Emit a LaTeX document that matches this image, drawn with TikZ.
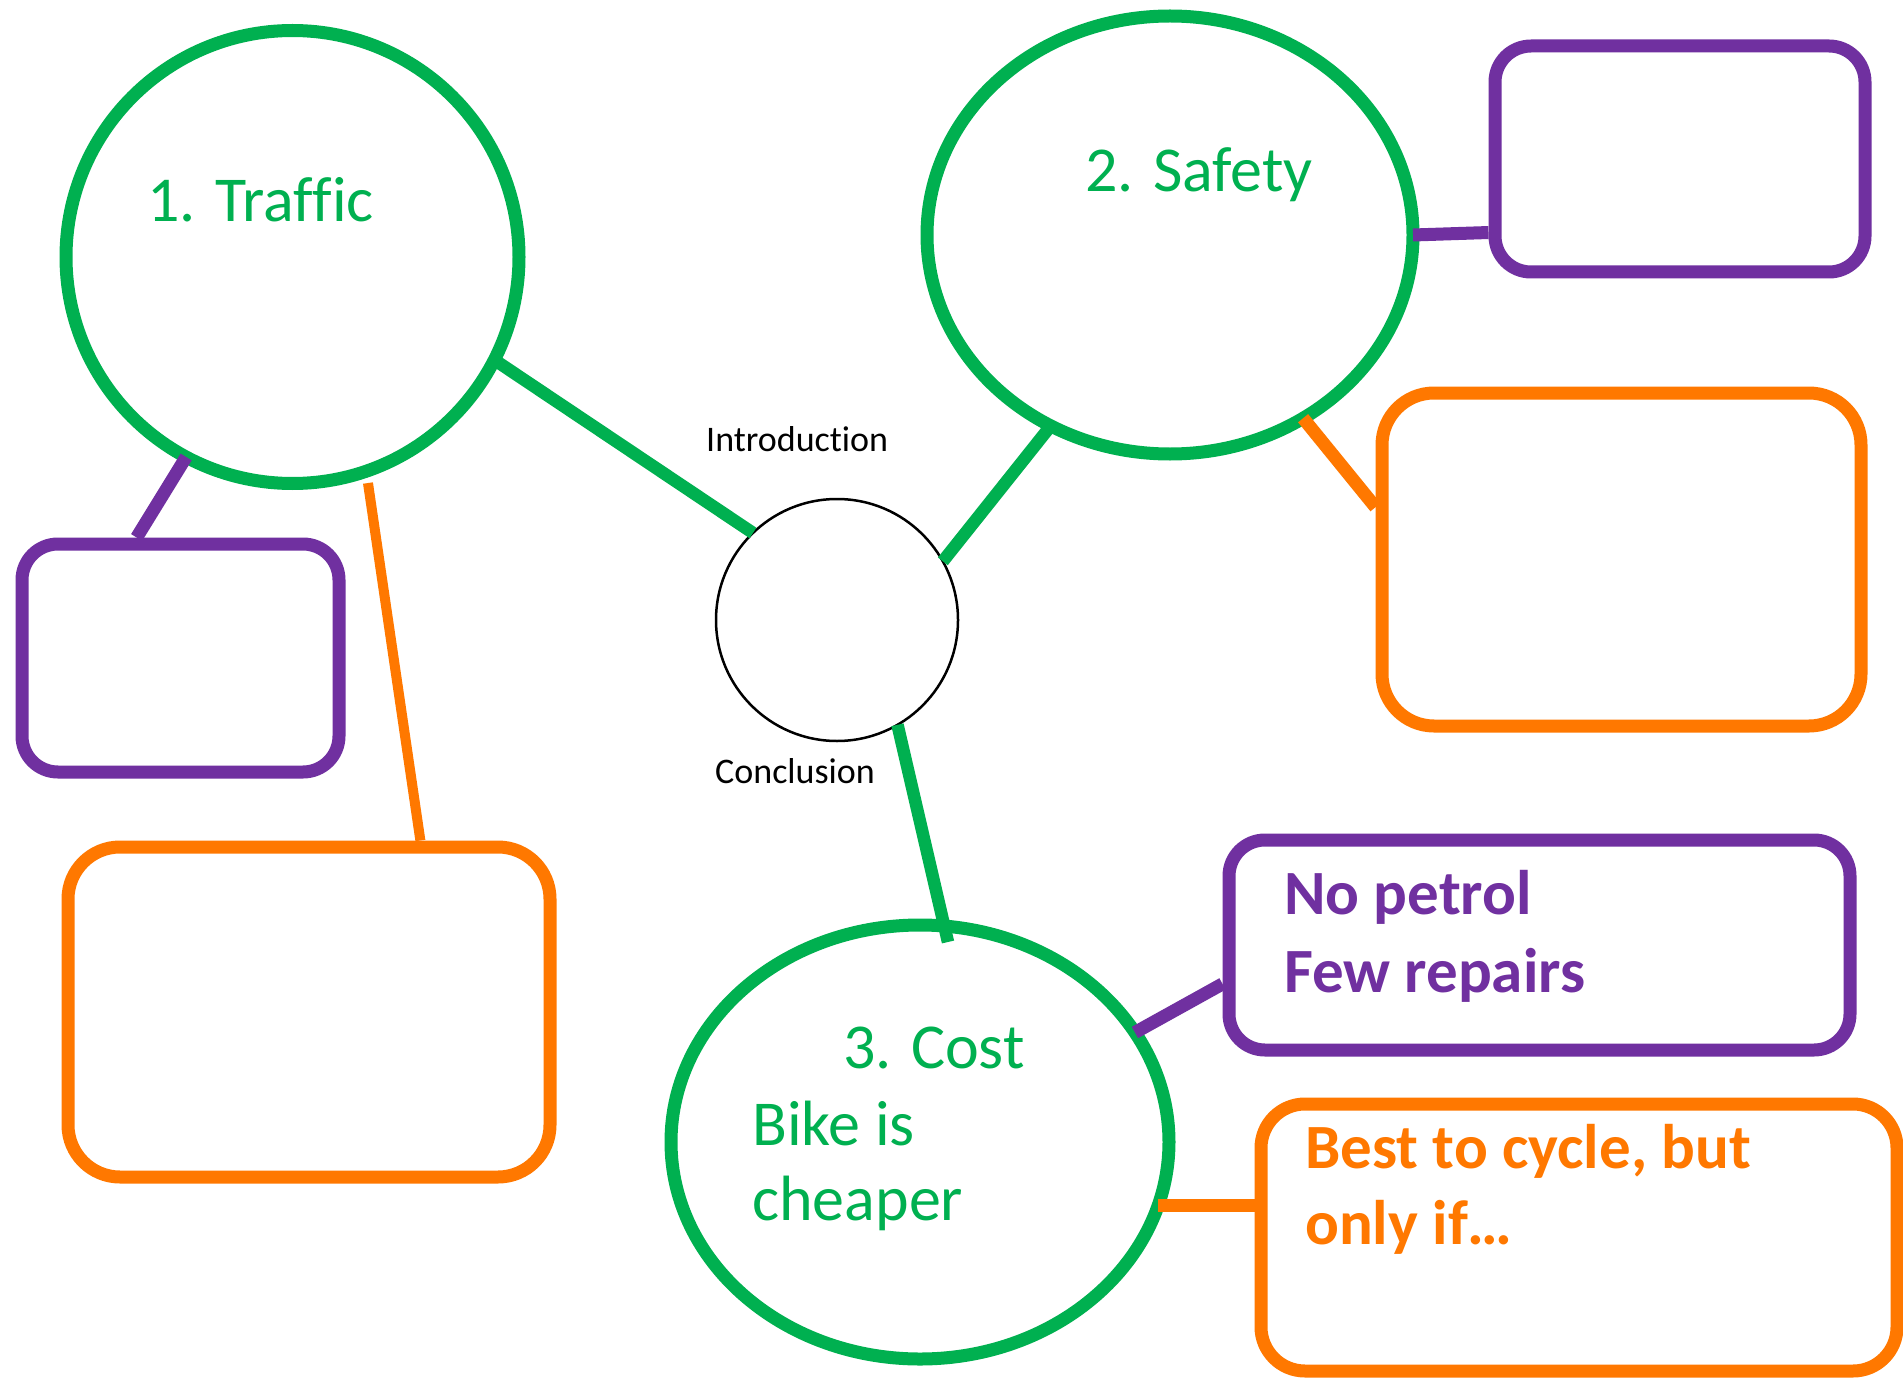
\documentclass[tikz,border=0pt]{standalone}
\usepackage{fontspec}
\setmainfont{Carlito}[Ligatures=CommonOff]
\usetikzlibrary{shapes.geometric}
\definecolor{cgreen}{RGB}{0,176,80}
\definecolor{cpurple}{RGB}{112,48,160}
\definecolor{corange}{RGB}{255,120,0}
\tikzset{
  topic/.style={ellipse, draw=cgreen, line width=13pt, inner sep=0pt, outer sep=0pt},
  hub/.style={circle, draw=black, line width=2.5pt, inner sep=0pt, outer sep=0pt, minimum size=242pt},
  pbox/.style={rectangle, draw=cpurple, line width=13pt, rounded corners=36pt, inner sep=0pt},
  obox/.style={rectangle, draw=corange, line width=13pt, rounded corners=52pt, inner sep=0pt},
  glink/.style={draw=cgreen, line width=12.5pt},
  plink/.style={draw=cpurple, line width=13pt},
  olink/.style={draw=corange, line width=13pt},
  bigtxt/.style={anchor=base west, inner sep=0pt, font=\fontsize{64}{76}\selectfont},
  boldtxt/.style={anchor=base west, inner sep=0pt, font=\bfseries\fontsize{63}{76}\selectfont},
  smalltxt/.style={anchor=base west, inner sep=0pt, font=\fontsize{36}{42}\selectfont},
}
\begin{document}
\begin{tikzpicture}[x=1pt,y=-1pt]
\useasboundingbox (0,0) rectangle (1903,1380);
\fill[white] (0,0) rectangle (1903,1380);

% main nodes
\node[topic, minimum width=453pt, minimum height=453pt] (traffic) at (292.5,257) {};
\node[topic, minimum width=486pt, minimum height=438pt] (safety) at (1170,235) {};
\node[topic, minimum width=498pt, minimum height=434pt] (cost) at (920,1142) {};
\node[hub] (hub) at (837,620) {};

% boxes
\node[pbox, minimum width=370pt, minimum height=226pt] (ptr) at (1680,159) {};
\node[obox, minimum width=479pt, minimum height=333pt] (oright) at (1621.5,559.5) {};
\node[pbox, minimum width=317pt, minimum height=228pt] (pleft) at (180.5,658) {};
\node[obox, minimum width=482pt, minimum height=330pt] (oleft) at (309,1012) {};
\node[pbox, minimum width=621pt, minimum height=210pt] (pbr) at (1539.5,945) {};
\node[obox, rounded corners=44pt, minimum width=636pt, minimum height=267pt] (obr) at (1579,1237.5) {};

% texts
\node[bigtxt, text=cgreen] (t1) at (147,222) {1. Traffic};
\node[bigtxt, text=cgreen] (t2) at (1085,192) {2. Safety};
\node[bigtxt, text=cgreen] (t3) at (843,1068) {3. Cost};
\node[bigtxt, text=cgreen] (t4) at (752,1145) {Bike is};
\node[bigtxt, text=cgreen] (t5) at (752,1220) {cheaper};
\node[smalltxt] (intro) at (706,451) {Introduction};
\node[smalltxt] (concl) at (715,783) {Conclusion};
\node[boldtxt, text=cpurple] (b1) at (1284,914) {No petrol};
\node[boldtxt, text=cpurple] (b2) at (1284,992) {Few repairs};
\node[boldtxt, text=corange] (b3) at (1305,1168) {Best to cycle, but};
\node[boldtxt, text=corange] (b4) at (1305,1244) {only if\ldots};

% connectors
\coordinate (costtip) at (948,942);
\draw[glink] (traffic.-27) -- (hub.134);
\draw[glink] (safety.-122.6) -- (hub.29.5);
\draw[glink] (hub.-60.5) -- (costtip);
\draw[plink] (traffic.-118.3) -- (pleft.110.9);
\draw[olink, line width=10pt, shorten <=12pt] (traffic.-71.6) -- (oleft.57.5);
\draw[plink] (safety.east) -- (ptr.-159.8);
\draw[olink] (safety.-54.5) -- (oright.168.8);
\draw[plink] (cost.27.4) -- (pbr.-173);
\draw[olink] (cost.-15.8) -- (cost.-15.8 -| obr.west);
\end{tikzpicture}
\end{document}
